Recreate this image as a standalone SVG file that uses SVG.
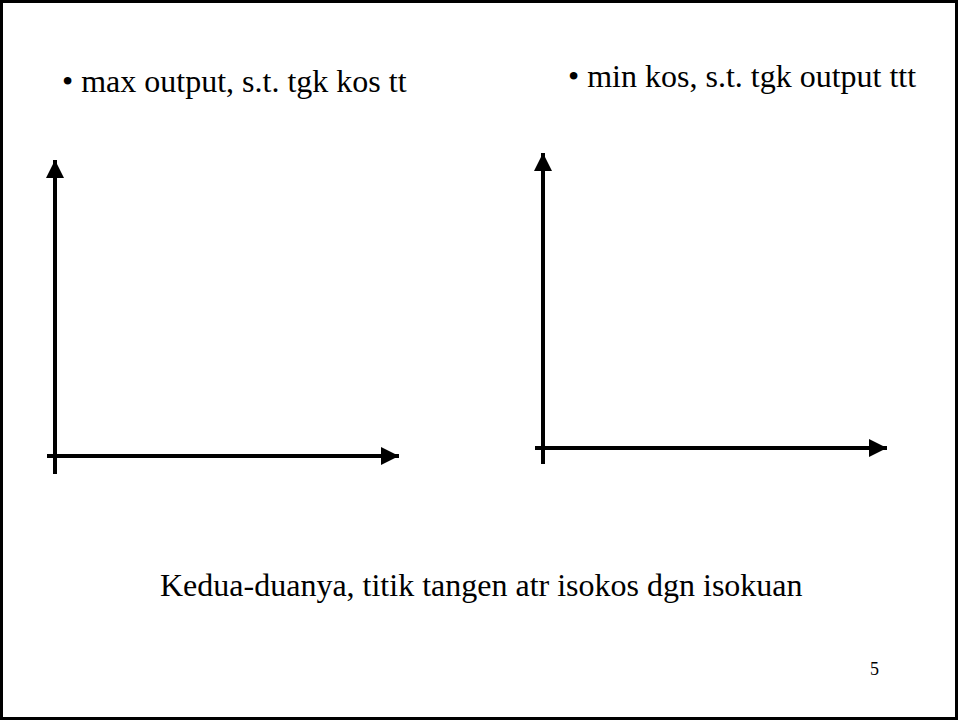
<svg xmlns="http://www.w3.org/2000/svg" width="958" height="720" viewBox="0 0 958 720">
<style>
.t{font-family:"Liberation Serif","Times New Roman",serif;fill:#000}
.ax{stroke:#000;stroke-width:4;fill:none}
</style>
<defs>
<marker id="ah" markerUnits="userSpaceOnUse" markerWidth="20" markerHeight="20" refX="18" refY="9" orient="auto">
<path d="M0,0 L18,9 L0,18 Z" fill="#000"/>
</marker>
</defs>
<rect x="0" y="0" width="958" height="720" fill="#fff"/>
<rect x="1.5" y="1.5" width="955" height="717" fill="none" stroke="#000" stroke-width="3"/>
<g id="title-left"><text class="t" x="62" y="92" font-size="32">• max output, s.t. tgk kos tt</text></g>
<g id="title-right"><text class="t" x="568" y="87" font-size="32">• min kos, s.t. tgk output ttt</text></g>
<g id="connectors">
<line class="ax" x1="55" y1="474" x2="55" y2="160" marker-end="url(#ah)"/>
<line class="ax" x1="47" y1="456" x2="399" y2="456" marker-end="url(#ah)"/>
<line class="ax" x1="543" y1="464" x2="543" y2="153" marker-end="url(#ah)"/>
<line class="ax" x1="535" y1="448" x2="887" y2="448" marker-end="url(#ah)"/>
</g>
<g id="caption"><text class="t" x="160" y="596" font-size="32">Kedua-duanya, titik tangen atr isokos dgn isokuan</text></g>
<g id="page"><text class="t" x="870" y="675" font-size="18">5</text></g>
</svg>
